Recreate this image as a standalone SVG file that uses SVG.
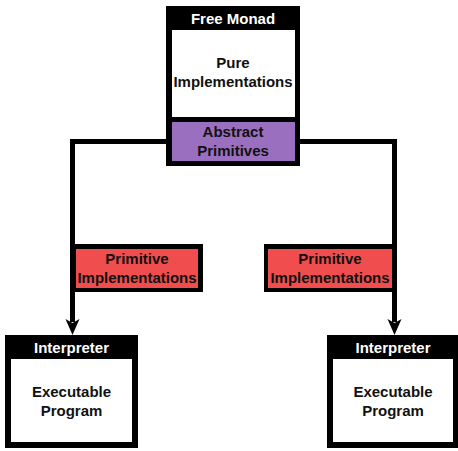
<svg xmlns="http://www.w3.org/2000/svg" width="458" height="451" viewBox="0 0 458 451">
  <style>
    text { font-family: "Liberation Sans", Arial, sans-serif; font-weight: bold; font-size: 15px; text-anchor: middle; }
    .hdr { fill: #ffffff; }
    .body { fill: #111111; }
    .frame { fill: #000000; }
    .white { fill: #ffffff; }
    .purple { fill: #9b6fbf; }
    .red { fill: #f04e4e; }
    .wire { fill: none; stroke: #000000; stroke-width: 5; stroke-linejoin: miter; }
  </style>
  <rect width="458" height="451" fill="#ffffff"/>

  <g id="connectors">
    <polyline class="wire" points="168,141.5 72.5,141.5 72.5,322"/>
    <polyline class="wire" points="298,141.5 394.5,141.5 394.5,322"/>
    <polygon points="65.5,319 72.5,323 79.5,319 72.5,335" fill="#000"/>
    <polygon points="387.5,319 394.5,323 401.5,319 394.5,335" fill="#000"/>
  </g>

  <g id="free-monad">
    <rect class="frame" x="166" y="6" width="134" height="160"/>
    <rect class="white" x="172" y="30" width="123" height="87"/>
    <rect class="purple" x="172" y="122" width="123" height="39"/>
    <text class="hdr" x="233" y="24">Free Monad</text>
    <text class="body" x="233" y="68">Pure</text>
    <text class="body" x="233" y="87">Implementations</text>
    <text class="body" x="233" y="137">Abstract</text>
    <text class="body" x="233" y="156">Primitives</text>
  </g>

  <g id="primitive-left">
    <rect class="frame" x="71" y="244" width="132" height="48"/>
    <rect class="red" x="76" y="249" width="122" height="39"/>
    <text class="body" x="137" y="264">Primitive</text>
    <text class="body" x="137" y="283">Implementations</text>
  </g>

  <g id="primitive-right">
    <rect class="frame" x="264" y="244" width="133" height="48"/>
    <rect class="red" x="268" y="249" width="124" height="39"/>
    <text class="body" x="330" y="264">Primitive</text>
    <text class="body" x="330" y="283">Implementations</text>
  </g>

  <g id="interpreter-left">
    <rect class="frame" x="5" y="335" width="133" height="113"/>
    <rect class="white" x="11" y="359" width="121" height="83"/>
    <text class="hdr" x="71.5" y="353">Interpreter</text>
    <text class="body" x="71.5" y="397">Executable</text>
    <text class="body" x="71.5" y="416">Program</text>
  </g>

  <g id="interpreter-right">
    <rect class="frame" x="327" y="335" width="131" height="113"/>
    <rect class="white" x="333" y="359" width="120" height="83"/>
    <text class="hdr" x="393" y="353">Interpreter</text>
    <text class="body" x="393" y="397">Executable</text>
    <text class="body" x="393" y="416">Program</text>
  </g>
</svg>
